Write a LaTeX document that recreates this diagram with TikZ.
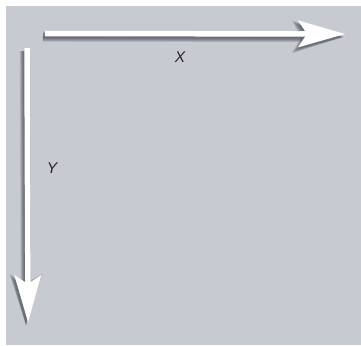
\documentclass[tikz,border=0pt]{standalone}
\usepackage{fontspec}
\setmainfont{Liberation Sans}
\usepackage{tikz}
\usetikzlibrary{arrows.meta}

\definecolor{panelgray}{RGB}{200,202,210}
\definecolor{shadegray}{RGB}{50,54,62}

\begin{document}
\begin{tikzpicture}[
    x=1pt, y=-1pt,
    axis/.style={draw=white, line width=5.5pt, -{Stealth[length=47pt, width=27pt, inset=9pt, line width=0pt]}},
    shade/.style={draw=shadegray, transform canvas={xshift=-2pt, yshift=-3pt}},
    lbl/.style={font=\fontsize{15.5}{18}\selectfont\itshape, text=black!85}
]

% Panel
\useasboundingbox (0, 0) rectangle (361, 345);
\fill[panelgray] (6, 6) rectangle (361, 345);

% Axis end points
\coordinate (xstart) at (45, 33.5);
\coordinate (xend) at (345, 34);
\coordinate (ystart) at (27, 48);
\coordinate (yend) at (28, 322);

% Soft shadows
\foreach \s in {1,...,6} {
    \pgfmathsetmacro{\lw}{2+1.4*\s}
    \pgfmathsetmacro{\hl}{44+1.2*\s}
    \pgfmathsetmacro{\hw}{22+1.8*\s}
    \draw[shade, opacity=0.14, line width=\lw pt, -{Stealth[length=\hl pt, width=\hw pt, inset=9pt, line width=0pt]}] (xstart) -- (xend);
    \draw[shade, opacity=0.14, line width=\lw pt, -{Stealth[length=\hl pt, width=\hw pt, inset=9pt, line width=0pt]}] (ystart) -- (yend);
}

% Axes
\draw[axis] (xstart) -- (xend);
\draw[axis] (ystart) -- (yend);

% Labels
\node[lbl] (xlabel) at (180, 57.5) {X};
\node[lbl] (ylabel) at (52, 168.5) {Y};

\end{tikzpicture}
\end{document}
